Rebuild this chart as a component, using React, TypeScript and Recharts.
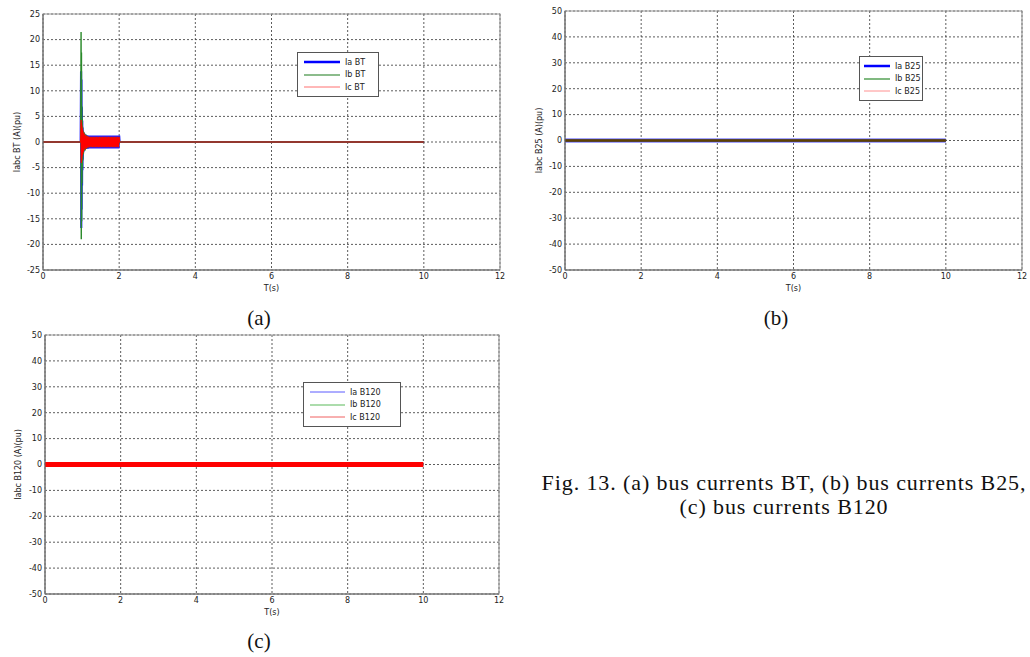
import React from 'react';
import { ComposedChart, Line, XAxis, YAxis, CartesianGrid, ReferenceArea } from 'recharts';

// time axis (s)
const xTicks = [0, 2, 4, 6, 8, 10, 12];
const yTicksA = [-25, -20, -15, -10, -5, 0, 5, 10, 15, 20, 25];
const yTicksBC = [-50, -40, -30, -20, -10, 0, 10, 20, 30, 40, 50];

// (a) bus BT, fault transient at t = 1 s, then fast oscillation until 2 s
const tSpike = [0, 0.99, 1.0, 1.005, 1.01, 1.015, 1.02, 1.025, 1.03, 1.035, 1.04, 1.045, 1.05];
const tOsc = [
  1.06, 1.08, 1.1, 1.12, 1.14, 1.16, 1.18, 1.2, 1.22, 1.24, 1.26, 1.28, 1.3, 1.32, 1.34, 1.36,
  1.38, 1.4, 1.42, 1.44, 1.46, 1.48, 1.5, 1.52, 1.54, 1.56, 1.58, 1.6, 1.62, 1.64, 1.66, 1.68,
  1.7, 1.72, 1.74, 1.76, 1.78, 1.8, 1.82, 1.84, 1.86, 1.88, 1.9, 1.92, 1.94, 1.96, 1.98, 2.0,
];
const tAfter = [2.01, 10];

const vIaSpike = [0, 0, 13.8, -16.8, 12.2, -13.2, 6.8, -8.5, 4.2, -5.5, 2.8, -3.4, 2.2];
const vIaOsc = [
  -2.0, 1.7, -1.5, 1.4, -1.35, 1.3, -1.3, 1.25, -1.25, 1.25, -1.25, 1.25, -1.25, 1.25, -1.25, 1.25,
  -1.25, 1.25, -1.25, 1.25, -1.25, 1.25, -1.25, 1.25, -1.25, 1.25, -1.25, 1.25, -1.25, 1.25, -1.25, 1.25,
  -1.25, 1.25, -1.25, 1.25, -1.25, 1.25, -1.25, 1.25, -1.25, 1.25, -1.25, 1.25, -1.25, 1.25, -1.25, 1.25,
];
const vIbSpike = [0, 0, 21.5, -19, 17.5, -15.5, 7, -8, 4.5, -5, 3, -3.6, 2.2];
const vIbOsc = [
  -2.4, 1.9, -1.7, 1.5, -1.3, 1.2, -1.1, 1.0, -0.9, 0.9, -0.9, 0.9, -0.9, 0.9, -0.9, 0.9,
  -0.9, 0.9, -0.9, 0.9, -0.9, 0.9, -0.9, 0.9, -0.9, 0.9, -0.9, 0.9, -0.9, 0.9, -0.9, 0.9,
  -0.9, 0.9, -0.9, 0.9, -0.9, 0.9, -0.9, 0.9, -0.9, 0.9, -0.9, 0.9, -0.9, 0.9, -0.9, 0.9,
];
const vIcSpike = [0, 0, 4.3, -4.1, 3.8, -3.6, 3.2, -3.0, 2.7, -2.6, 2.4, -2.3, 2.1];
const vIcOsc = [
  -1.9, 1.7, -1.5, 1.35, -1.25, 1.15, -1.1, 1.05, -1.0, 1.0, -1.0, 1.0, -1.0, 1.0, -1.0, 1.0,
  -1.0, 1.0, -1.0, 1.0, -1.0, 1.0, -1.0, 1.0, -1.0, 1.0, -1.0, 1.0, -1.0, 1.0, -1.0, 1.0,
  -1.0, 1.0, -1.0, 1.0, -1.0, 1.0, -1.0, 1.0, -1.0, 1.0, -1.0, 1.0, -1.0, 1.0, -1.0, 1.0,
];
const vAfter = [0, 0];

// (b) bus B25
const tB25 = [0, 10];
const vIaB25 = [0, 0];
const vIbB25 = [0, 0];
const vIcB25 = [0, 0];

// (c) bus B120
const tB120 = [0, 10];
const vIaB120 = [0, 0];
const vIbB120 = [0, 0];
const vIcB120 = [0, 0];

const zip = (t: number[], v: number[]) => t.map((x, i) => ({ t: x, v: v[i] }));
const tBT = [...tSpike, ...tOsc, ...tAfter];
const dataIaBT = zip(tBT, [...vIaSpike, ...vIaOsc, ...vAfter]);
const dataIbBT = zip(tBT, [...vIbSpike, ...vIbOsc, ...vAfter]);
const dataIcBT = zip(tBT, [...vIcSpike, ...vIcOsc, ...vAfter]);

const FONT = '"DejaVu Sans", Verdana, sans-serif';
const tickStyle = { fontSize: 8, fill: '#222', fontFamily: FONT };

interface PanelProps {
  width: number;
  height: number;
  margin: { top: number; right: number; left: number; bottom: number };
  yWidth: number;
  yTicks: number[];
  yLabel: string;
  yLabelX: number;
  children: React.ReactNode;
}

const Panel: React.FC<PanelProps> = ({ width, height, margin, yWidth, yTicks, yLabel, yLabelX, children }) => {
  const yMin = yTicks[0];
  const yMax = yTicks[yTicks.length - 1];
  return (
    <ComposedChart width={width} height={height} margin={margin}>
      <CartesianGrid stroke="#333" strokeDasharray="2 2" strokeWidth={0.8} />
      <XAxis
        dataKey="t"
        type="number"
        domain={[0, 12]}
        ticks={xTicks}
        height={30}
        tick={tickStyle}
        tickLine={false}
        tickSize={2}
        tickMargin={1}
        stroke="#666"
        allowDataOverflow
        label={(p: any) => (
          <text
            x={p.viewBox.x + p.viewBox.width / 2}
            y={p.viewBox.y + 21}
            textAnchor="middle"
            fontSize={8}
            fontFamily={FONT}
            fill="#222"
          >
            T(s)
          </text>
        )}
      />
      <YAxis
        type="number"
        domain={[yMin, yMax]}
        ticks={yTicks}
        width={yWidth}
        tick={tickStyle}
        tickLine={false}
        tickSize={2}
        tickMargin={1}
        stroke="#666"
        allowDataOverflow
        label={(p: any) => {
          const cy = p.viewBox.y + p.viewBox.height / 2;
          return (
            <text
              x={yLabelX}
              y={cy}
              transform={`rotate(-90 ${yLabelX} ${cy})`}
              textAnchor="middle"
              dominantBaseline="central"
              fontSize={8}
              fontFamily={FONT}
              fill="#222"
            >
              {yLabel}
            </text>
          );
        }}
      />
      <ReferenceArea x1={0} x2={12} y1={yMin} y2={yMax} fill="none" stroke="#999" strokeWidth={1.2} />
      {children}
    </ComposedChart>
  );
};

interface LegendItem {
  name: string;
  color: string;
  width: number;
}

const LegendBox: React.FC<{ left: number; top: number; w: number; pad: number; lineW: number; items: LegendItem[] }> = ({
  left,
  top,
  w,
  pad,
  lineW,
  items,
}) => (
  <div
    style={{
      position: 'absolute',
      left,
      top,
      width: w,
      border: '1px solid #555',
      background: '#fff',
      padding: '3px 0 2px 0',
      fontFamily: FONT,
      fontSize: 8,
      color: '#222',
      whiteSpace: 'nowrap',
      boxSizing: 'border-box',
    }}
  >
    {items.map((it) => (
      <div key={it.name} style={{ display: 'flex', alignItems: 'center', height: 12.5 }}>
        <svg width={lineW + 5} height={8} style={{ marginLeft: pad, flexShrink: 0 }}>
          <line x1={0} y1={4} x2={lineW} y2={4} stroke={it.color} strokeWidth={it.width} />
        </svg>
        <span>{it.name}</span>
      </div>
    ))}
  </div>
);

const serif = '"Liberation Serif", "Times New Roman", serif';
const captionStyle: React.CSSProperties = {
  position: 'absolute',
  width: 100,
  textAlign: 'center',
  fontFamily: serif,
  fontSize: 21,
  lineHeight: '22px',
  color: '#111',
};

export default function App() {
  return (
    <div
      style={{
        position: 'absolute',
        left: 0,
        top: 0,
        width: 1030,
        height: 657,
        background: '#fff',
        overflow: 'hidden',
      }}
    >
      {/* (a) */}
      <div style={{ position: 'absolute', left: 0, top: 0 }}>
        <Panel
          width={520}
          height={300}
          margin={{ top: 14, right: 20, left: 0, bottom: 0 }}
          yWidth={43}
          yTicks={yTicksA}
          yLabel="Iabc BT (A)(pu)"
          yLabelX={17}
        >
          <Line data={dataIaBT} dataKey="v" type="linear" stroke="#2020ff" strokeWidth={2.2} dot={false} isAnimationActive={false} />
          <Line data={dataIbBT} dataKey="v" type="linear" stroke="#2a8a2a" strokeWidth={1.4} dot={false} isAnimationActive={false} />
          <Line data={dataIcBT} dataKey="v" type="linear" stroke="#ff0000" strokeWidth={1.2} dot={false} isAnimationActive={false} />
        </Panel>
      </div>
      <LegendBox
        left={297}
        top={52}
        w={82}
        pad={6}
        lineW={36}
        items={[
          { name: 'Ia BT', color: '#0000ff', width: 2.5 },
          { name: 'Ib BT', color: '#1b7a1b', width: 1.2 },
          { name: 'Ic BT', color: '#ff7070', width: 1 },
        ]}
      />

      {/* (b) */}
      <div style={{ position: 'absolute', left: 522, top: 0 }}>
        <Panel
          width={508}
          height={300}
          margin={{ top: 11, right: 8, left: 0, bottom: 0 }}
          yWidth={43}
          yTicks={yTicksBC}
          yLabel="Iabc B25 (A)(pu)"
          yLabelX={17}
        >
          <Line data={zip(tB25, vIaB25)} dataKey="v" type="linear" stroke="#4a4aff" strokeWidth={4} dot={false} isAnimationActive={false} />
          <Line data={zip(tB25, vIbB25)} dataKey="v" type="linear" stroke="#2a4a00" strokeWidth={2.5} dot={false} isAnimationActive={false} />
          <Line data={zip(tB25, vIcB25)} dataKey="v" type="linear" stroke="#c03000" strokeOpacity={0.35} strokeWidth={2.5} dot={false} isAnimationActive={false} />
        </Panel>
      </div>
      <LegendBox
        left={859}
        top={56}
        w={64}
        pad={4}
        lineW={26}
        items={[
          { name: 'Ia B25', color: '#0000ff', width: 2.5 },
          { name: 'Ib B25', color: '#2a8a2a', width: 1.2 },
          { name: 'Ic B25', color: '#ff9090', width: 1 },
        ]}
      />

      {/* (c) */}
      <div style={{ position: 'absolute', left: 0, top: 321 }}>
        <Panel
          width={519}
          height={303}
          margin={{ top: 14, right: 20, left: 0, bottom: 0 }}
          yWidth={45}
          yTicks={yTicksBC}
          yLabel="Iabc B120 (A)(pu)"
          yLabelX={18}
        >
          <Line data={zip(tB120, vIaB120)} dataKey="v" type="linear" stroke="#5050ff" strokeWidth={3} dot={false} isAnimationActive={false} />
          <Line data={zip(tB120, vIbB120)} dataKey="v" type="linear" stroke="#60c060" strokeWidth={3} dot={false} isAnimationActive={false} />
          <Line data={zip(tB120, vIcB120)} dataKey="v" type="linear" stroke="#ff0000" strokeWidth={5} dot={false} isAnimationActive={false} />
        </Panel>
      </div>
      <LegendBox
        left={303}
        top={382}
        w={98}
        pad={6}
        lineW={35}
        items={[
          { name: 'Ia B120', color: '#5a5aff', width: 1 },
          { name: 'Ib B120', color: '#90d090', width: 1.5 },
          { name: 'Ic B120', color: '#f06060', width: 1 },
        ]}
      />

      {/* captions */}
      <div style={{ ...captionStyle, left: 209, top: 307 }}>(a)</div>
      <div style={{ ...captionStyle, left: 726, top: 307 }}>(b)</div>
      <div style={{ ...captionStyle, left: 209, top: 630 }}>(c)</div>
      <div
        style={{
          position: 'absolute',
          left: 514,
          top: 471,
          width: 540,
          textAlign: 'center',
          fontFamily: serif,
          fontSize: 22,
          letterSpacing: 0.9,
          lineHeight: '24px',
          color: '#111',
        }}
      >
        Fig. 13. (a) bus currents BT, (b) bus currents B25,
        <br />
        (c) bus currents B120
      </div>
    </div>
  );
}
